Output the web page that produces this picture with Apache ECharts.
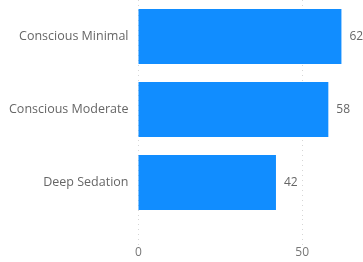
<!DOCTYPE html>
<html>
<head>
<meta charset="utf-8">
<script src="https://cdn.jsdelivr.net/npm/echarts@6/dist/echarts.min.js"></script>
<style>
    html, body { margin: 0; padding: 0; background: #fff; }
    #main { width: 363px; height: 262px; }
</style>
</head>
<body>
<div id="main"></div>
<script>
    // data
    var categories = ['Conscious Minimal', 'Conscious Moderate', 'Deep Sedation'];
    var values = [62, 58, 42];
    var xMin = 0, xMax = 100, xStep = 50;

    var font = 'Open Sans';
    var myChart = echarts.init(document.getElementById('main'));
    var gridLine = { show: true, lineStyle: { color: '#d6d6d6', type: [1, 4], width: 1 } };

    var option = {
        animation: false,
        textStyle: { fontFamily: font },
        grid: [
            { left: 138.5, top: 0, width: 327.3, height: 219, outerBoundsMode: 'none' },
            { left: 138.5, top: 219, width: 327.3, height: 26, outerBoundsMode: 'none' }
        ],
        xAxis: [
            {
                gridIndex: 0, type: 'value', min: xMin, max: xMax, interval: xStep,
                axisLine: { show: false }, axisTick: { show: false }, axisLabel: { show: false },
                splitLine: gridLine
            },
            {
                gridIndex: 1, type: 'value', min: xMin, max: xMax, interval: xStep,
                axisLine: { show: false }, axisTick: { show: false },
                axisLabel: { color: '#777', fontSize: 12, margin: 2, fontFamily: font },
                splitLine: gridLine
            }
        ],
        yAxis: [
            {
                gridIndex: 0, type: 'category', data: categories, inverse: true,
                axisLine: { show: false }, axisTick: { show: false },
                axisLabel: { color: '#666', fontSize: 12.5, margin: 10, fontFamily: font }
            },
            { gridIndex: 1, type: 'value', show: false }
        ],
        series: [
            {
                type: 'bar',
                xAxisIndex: 0, yAxisIndex: 0,
                data: values,
                barWidth: 55,
                itemStyle: { color: '#118DFF' },
                label: { show: true, position: 'right', distance: 8, color: '#666', fontSize: 12, fontFamily: font }
            }
        ]
    };
    myChart.setOption(option);
</script>
</body>
</html>
